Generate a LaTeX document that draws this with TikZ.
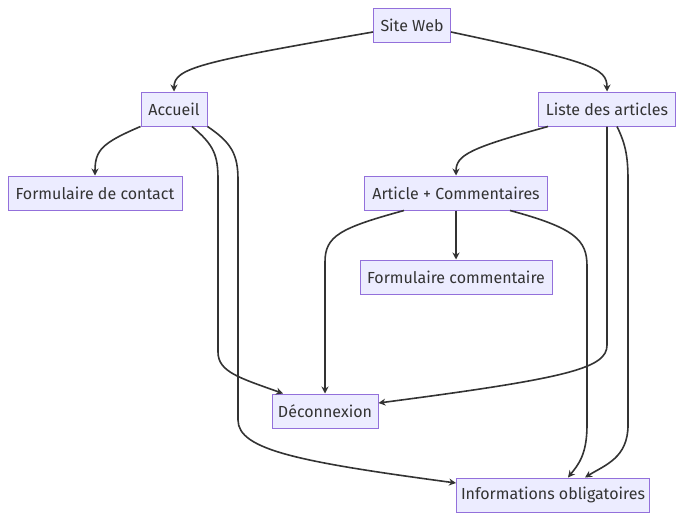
\documentclass[tikz,border=0pt]{standalone}
\usepackage{fontspec}
\setmainfont{Fira Sans}
\usetikzlibrary{arrows.meta}

\definecolor{boxfill}{HTML}{ECECFF}
\definecolor{boxline}{HTML}{9370DB}
\definecolor{edge}{HTML}{333333}

\begin{document}
\begin{tikzpicture}[x=1pt,y=-1pt,
  box/.style={draw=boxline, fill=boxfill, line width=1pt, text=edge,
    minimum height=34pt, inner xsep=0pt, font=\fontsize{16}{19}\selectfont},
  flow/.style={draw=edge, line width=1.6pt, -{Stealth[length=7pt,width=7pt]}}]

\useasboundingbox (0,0) rectangle (684,520);

\node[box, minimum width=77pt]  (web)   at (412,25)  {Site Web};
\node[box, minimum width=66pt]  (acc)   at (174,109) {Accueil};
\node[box, minimum width=137pt] (liste) at (607,109) {Liste des articles};
\node[box, minimum width=174pt] (contact) at (95,193) {Formulaire de contact};
\node[box, minimum width=183pt] (art)   at (456,193) {Article + Commentaires};
\node[box, minimum width=192pt] (formc) at (456,277) {Formulaire commentaire};
\node[box, minimum width=106pt] (deco)  at (325,411) {Déconnexion};
\node[box, minimum width=193pt] (info)  at (553,495) {Informations obligatoires};

% depuis le site
\draw[flow] ([yshift=-7pt]web.west) .. controls (200,62) and (174,68) .. (acc.north);
\draw[flow] ([yshift=-7pt]web.east) .. controls (592,62) and (607,68) .. (liste.north);

% accueil
\draw[flow] (acc.south west) .. controls (102,143) and (95,150) .. (contact.north);
\draw[flow] ([xshift=18pt]acc.south) .. controls (214,145) and (218,155) .. (218,180)
  -- (218,352) .. controls (218,372) and (240,378) .. ([xshift=-42pt]deco.north);
\draw[flow] (acc.south east) .. controls (232,143) and (238,155) .. (238,180)
  -- (238,420) .. controls (238,450) and (300,462) .. ([yshift=12pt]info.west);

% liste
\draw[flow] ([xshift=-59pt]liste.south) .. controls (470,148) and (456,155) .. (art.north);
\draw[flow] (liste.south) -- (607,345) .. controls (607,368) and (570,378) .. ([yshift=8pt]deco.east);
\draw[flow] ([xshift=10pt]liste.south) .. controls (625,143) and (628,155) .. (628,180)
  -- (628,425) .. controls (628,458) and (605,465) .. ([xshift=32pt]info.north);

% article
\draw[flow] (art.south) -- (formc.north);
\draw[flow] ([xshift=-52pt]art.south) .. controls (340,228) and (325,236) .. (325,262) -- (deco.north);
\draw[flow] ([xshift=54pt]art.south) .. controls (575,228) and (587,240) .. (587,266)
  -- (587,425) .. controls (587,455) and (578,465) .. ([xshift=15pt]info.north);

\end{tikzpicture}
\end{document}
